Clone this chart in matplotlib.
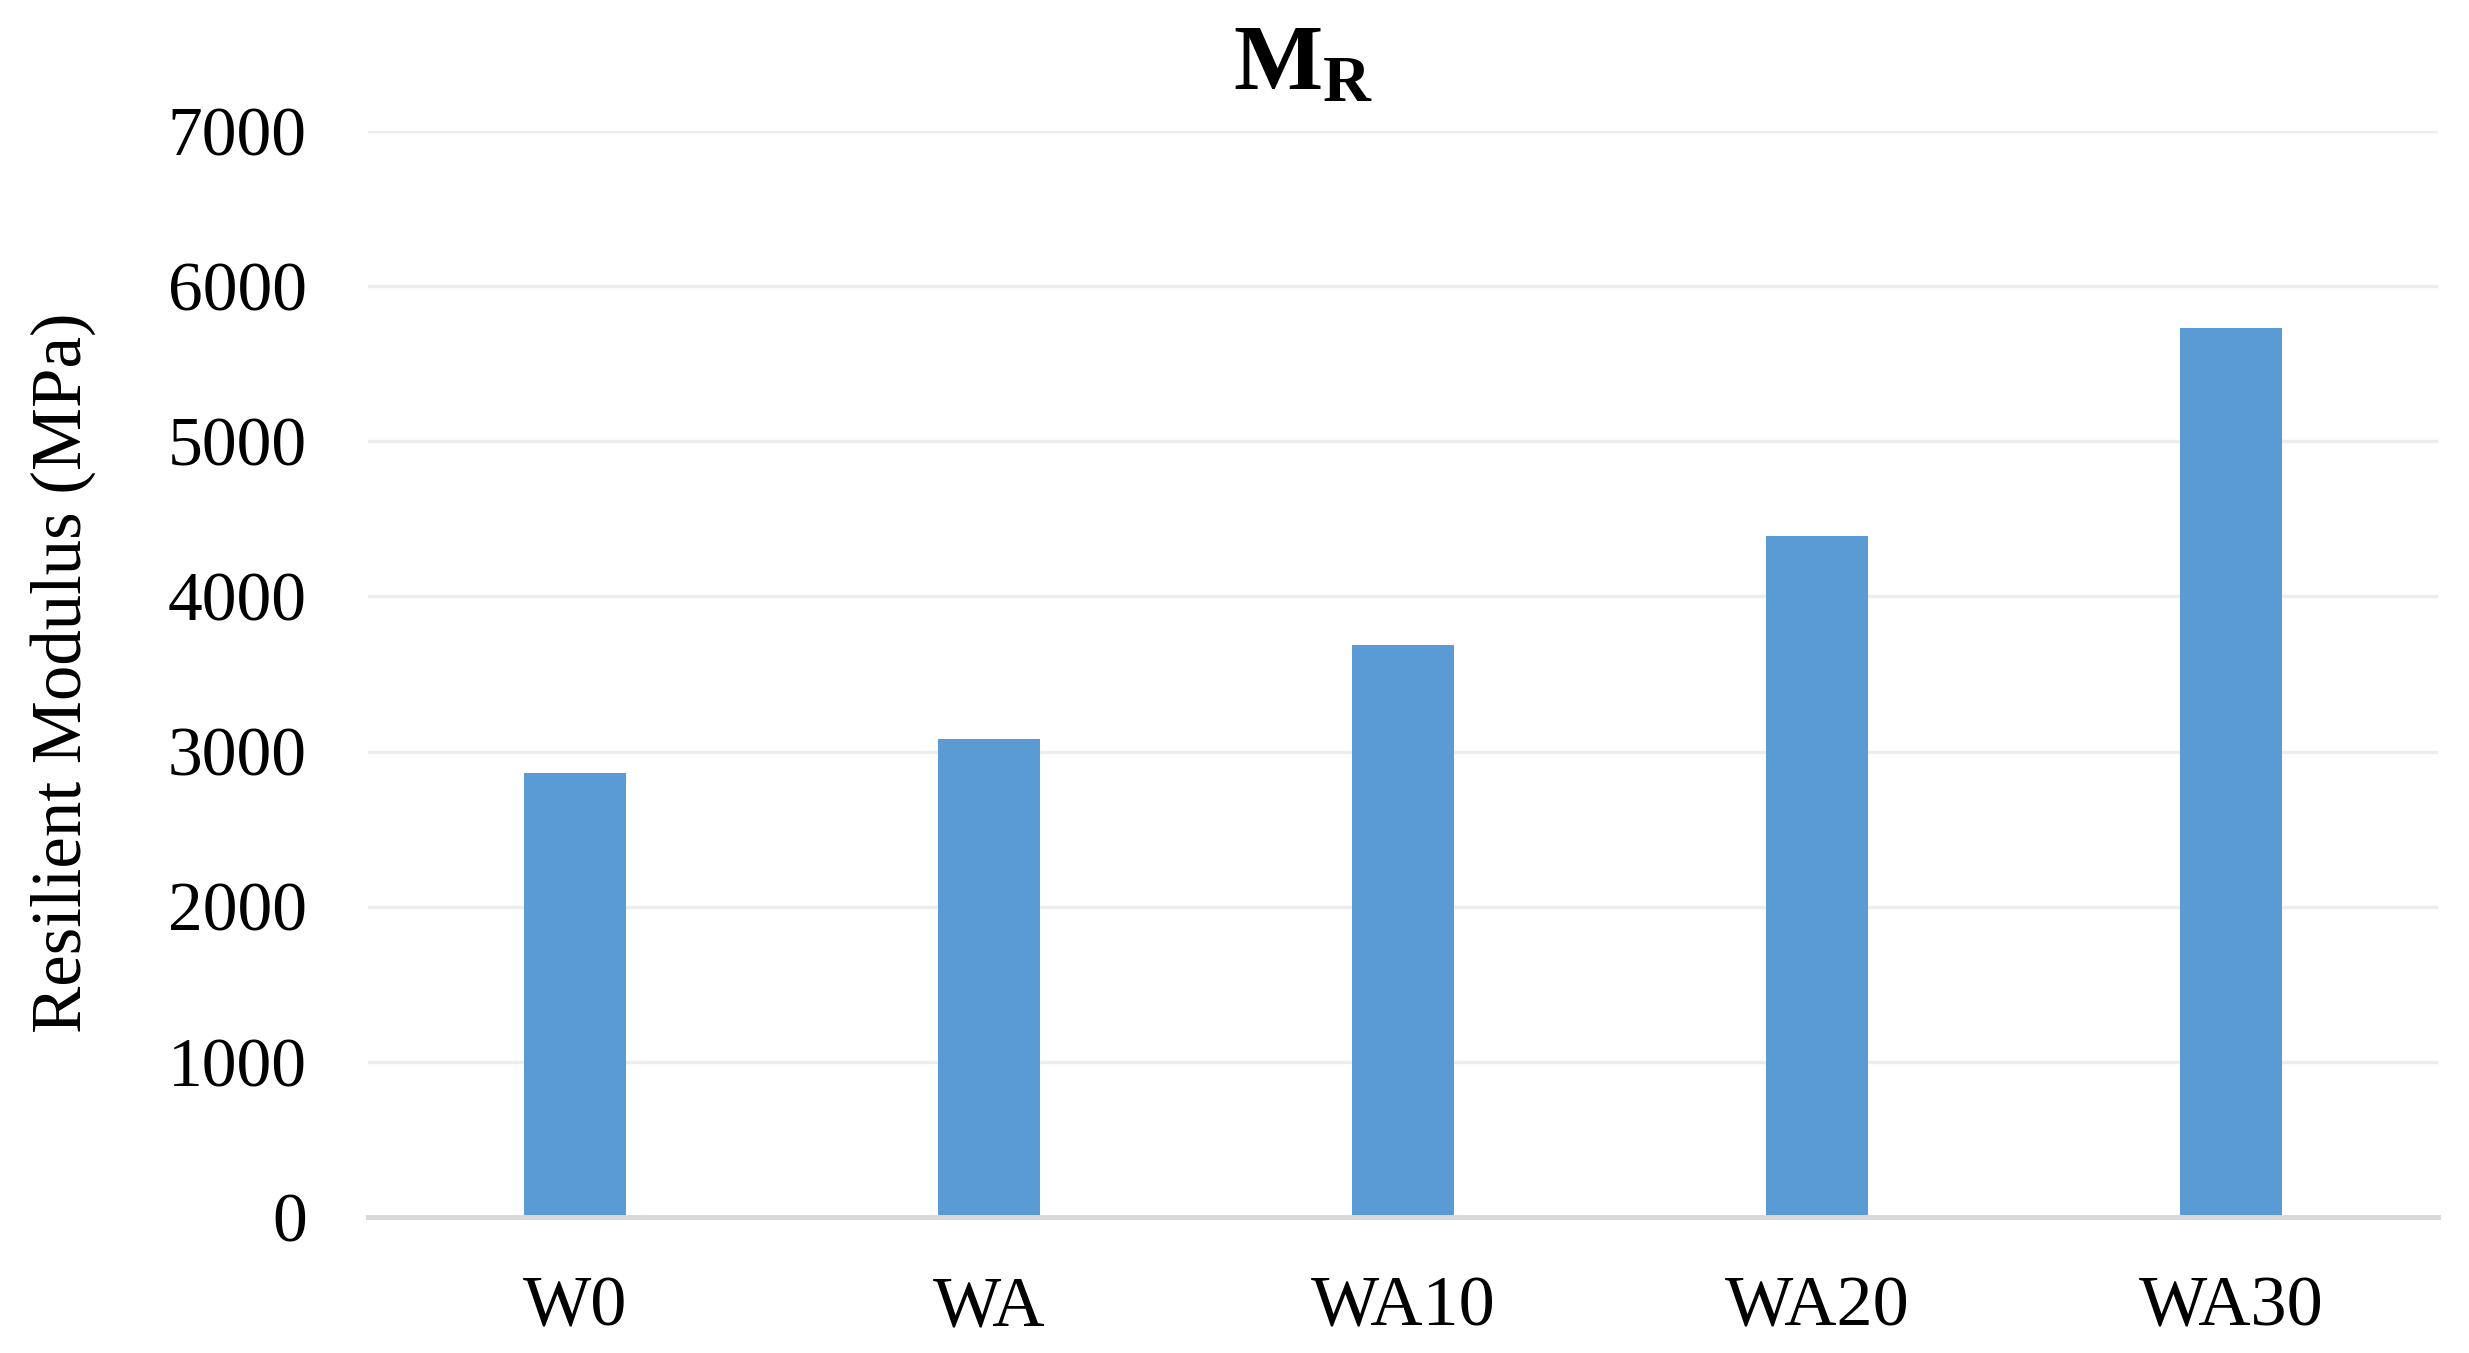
import numpy as np
import matplotlib
matplotlib.use('Agg')
import matplotlib.pyplot as plt

plt.rcParams['font.family'] = ['Liberation Serif', 'DejaVu Serif']
plt.rcParams['mathtext.fontset'] = 'custom'
plt.rcParams['mathtext.rm'] = 'Liberation Serif'
plt.rcParams['mathtext.bf'] = 'Liberation Serif:bold'

# data
samples = ['W0', 'WA', 'WA10', 'WA20', 'WA30']
mr_values = [2860, 3080, 3690, 4390, 5730]
yticks = [0, 1000, 2000, 3000, 4000, 5000, 6000, 7000]

fig = plt.figure(figsize=(24.69, 13.53), dpi=100)
ax = fig.add_axes([0.149, 0.1005, 0.8385, 0.8027])

x = np.arange(len(samples))
ax.bar(x, mr_values, width=0.245, color='#5B9BD5', zorder=3)

ax.set_xlim(-0.5, len(samples) - 0.5)
ax.set_ylim(0, 7000)
ax.set_yticks(yticks)
ax.set_xticks(x)
ax.set_xticklabels(samples)

ax.grid(axis='y', color='#EDEDED', linewidth=2.4, zorder=0)
ax.set_axisbelow(True)
for s in ['top', 'left', 'right']:
    ax.spines[s].set_visible(False)
ax.spines['bottom'].set_color('#D9D9D9')
ax.spines['bottom'].set_linewidth(3.6)
ax.spines['bottom'].set_zorder(4)

ax.tick_params(axis='both', length=0, labelsize=50, colors='black')
ax.tick_params(axis='y', pad=44)
ax.tick_params(axis='x', pad=42, labelsize=52)

fig.text(0.0255, 0.503, 'Resilient Modulus (MPa)', rotation=90, fontsize=51,
         ha='center', va='center')
fig.text(0.528, 0.934, r'$\mathbf{M_R}$', fontsize=68, ha='center', va='baseline')

fig.savefig('out.png', dpi=100)
